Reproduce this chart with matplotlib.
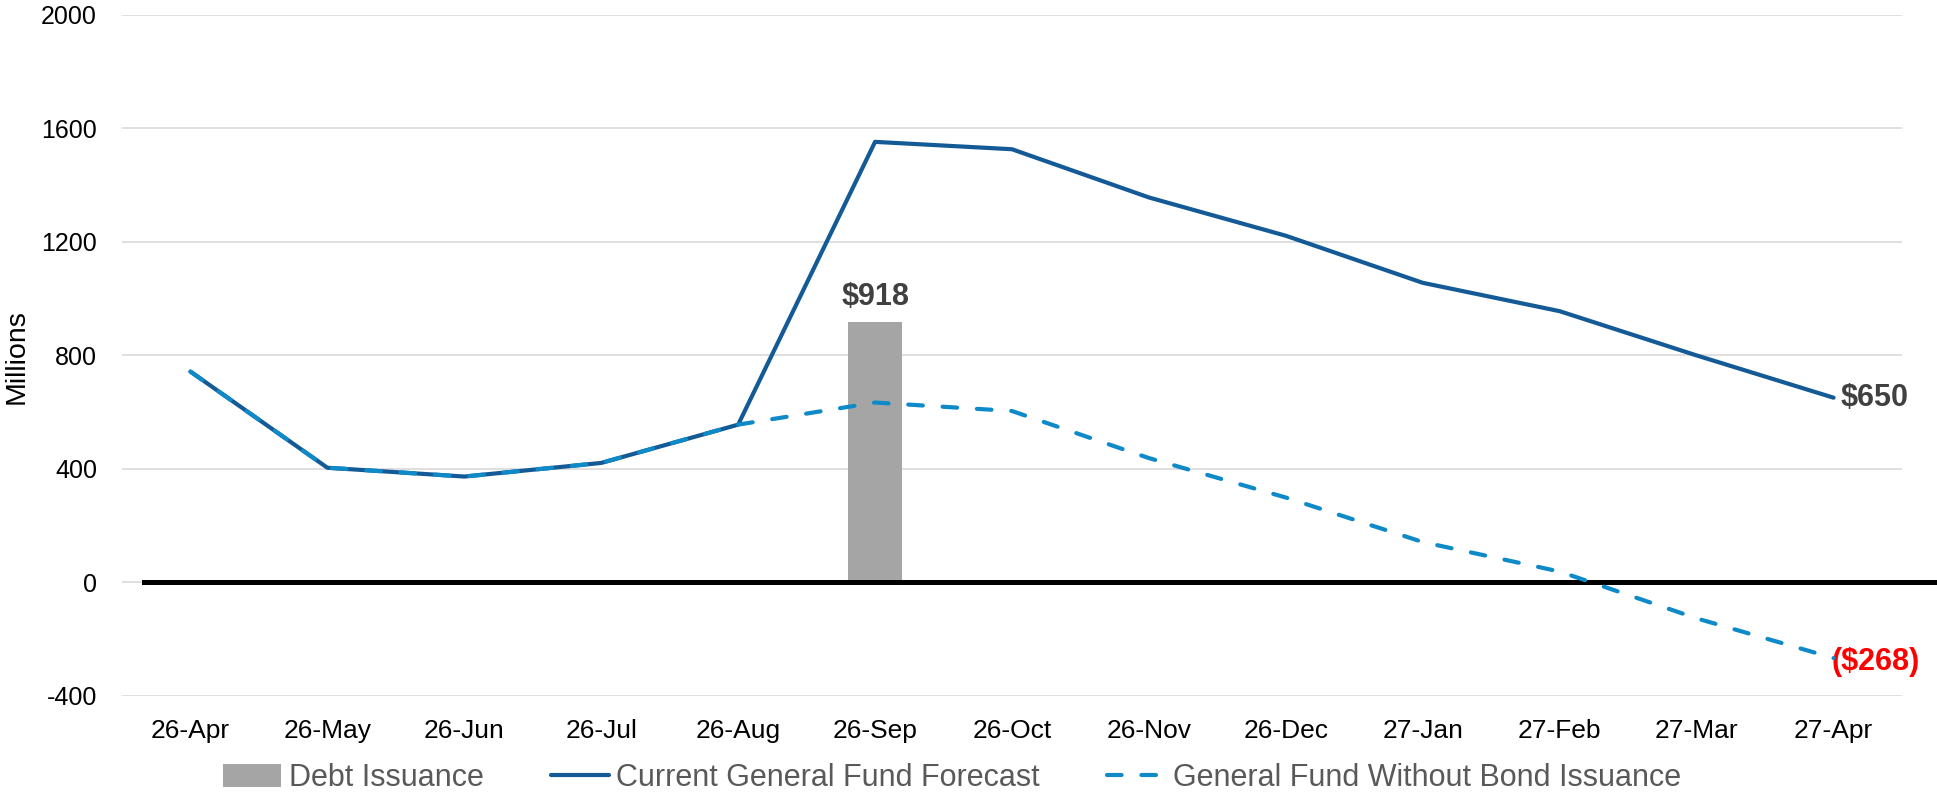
import matplotlib
matplotlib.use("Agg")
import matplotlib.pyplot as plt
import matplotlib.transforms as mtransforms

# ---- data ----
months = ["26-Apr", "26-May", "26-Jun", "26-Jul", "26-Aug", "26-Sep", "26-Oct",
          "26-Nov", "26-Dec", "27-Jan", "27-Feb", "27-Mar", "27-Apr"]
current_forecast = [742, 403, 372, 420, 555, 1552, 1526, 1356, 1221, 1055, 955, 799, 650]
without_bond = [742, 403, 372, 420, 555, 633, 603, 437, 298, 141, 37, -128, -268]
debt_issuance = [None, None, None, None, None, 918, None, None, None, None, None, None, None]
y_ticks = [-400, 0, 400, 800, 1200, 1600, 2000]

plt.rcParams['font.family'] = ['Liberation Sans', 'DejaVu Sans']
plt.rcParams['axes.unicode_minus'] = False

W, H = 1937, 796
fig = plt.figure(figsize=(W / 100, H / 100), dpi=100)
left, right = 122 / W, 1902 / W
top, bottom = 1 - 14.8 / H, 1 - 695.5 / H
ax = fig.add_axes([left, bottom, right - left, top - bottom])

x = list(range(len(months)))

# bars
bx = [i for i, v in zip(x, debt_issuance) if v is not None]
bv = [v for v in debt_issuance if v is not None]
h_bar = ax.bar(bx, bv, width=0.4, color='#A5A5A5', zorder=2, label='Debt Issuance')

# lines
h_cur, = ax.plot(x, current_forecast, color='#135A96', lw=3, zorder=4,
                 solid_capstyle='round', solid_joinstyle='round',
                 label='Current General Fund Forecast')
h_wo, = ax.plot(x, without_bond, color='#0E8AC8', lw=3, zorder=5, linestyle=(0, (3.5, 4.75)),
                dash_capstyle='round', label='General Fund Without Bond Issuance')

# zero line extending to the right edge
trans = mtransforms.blended_transform_factory(ax.transAxes, ax.transData)
ax.plot([(144 - 122) / 1780, (1937 - 122) / 1780], [0, 0], color='black', lw=3.6,
        transform=trans, clip_on=False, zorder=3)

ax.set_xlim(-0.5, len(months) - 0.5)
ax.set_ylim(-400, 2000)
ax.set_yticks(y_ticks)
ax.set_xticks(x)
ax.set_xticklabels(months)
ax.tick_params(axis='both', length=0, colors='black')
ax.tick_params(axis='y', pad=18, labelsize=18)
ax.tick_params(axis='x', pad=17, labelsize=19)
ax.grid(axis='y', color='#D9D9D9', lw=1.2, zorder=0)
ax.set_axisbelow(True)
for s in ax.spines.values():
    s.set_visible(False)

fig.text(17 / W, 1 - 357 / H, 'Millions', rotation=90, ha='center', va='center',
         fontsize=20.5)

# data labels
for i, v in zip(bx, bv):
    ax.annotate(f'${v:,}', (i, v), xytext=(0, 25), textcoords='offset pixels',
                ha='center', va='center', fontsize=22, fontweight='bold', color='#404040')
ax.annotate(f'${current_forecast[-1]:,}', (x[-1], current_forecast[-1]), xytext=(7, 0),
            textcoords='offset pixels', ha='left', va='center', fontsize=22,
            fontweight='bold', color='#404040', annotation_clip=False)
ax.annotate(f'(${abs(without_bond[-1]):,})', (x[-1], without_bond[-1]), xytext=(-2, -4),
            textcoords='offset pixels', ha='left', va='center', fontsize=22,
            fontweight='bold', color='#FF0000', annotation_clip=False)

leg = fig.legend([h_bar, h_cur, h_wo],
                 ['Debt Issuance', 'Current General Fund Forecast',
                  'General Fund Without Bond Issuance'],
                 loc='center', bbox_to_anchor=(0.4915, 1 - 778 / H), ncol=3, frameon=False,
                 fontsize=22, handlelength=1.9, handleheight=0.8, handletextpad=0.25,
                 columnspacing=2.2, labelcolor='#595959', borderaxespad=0)

fig.savefig('out.png', dpi=100)
